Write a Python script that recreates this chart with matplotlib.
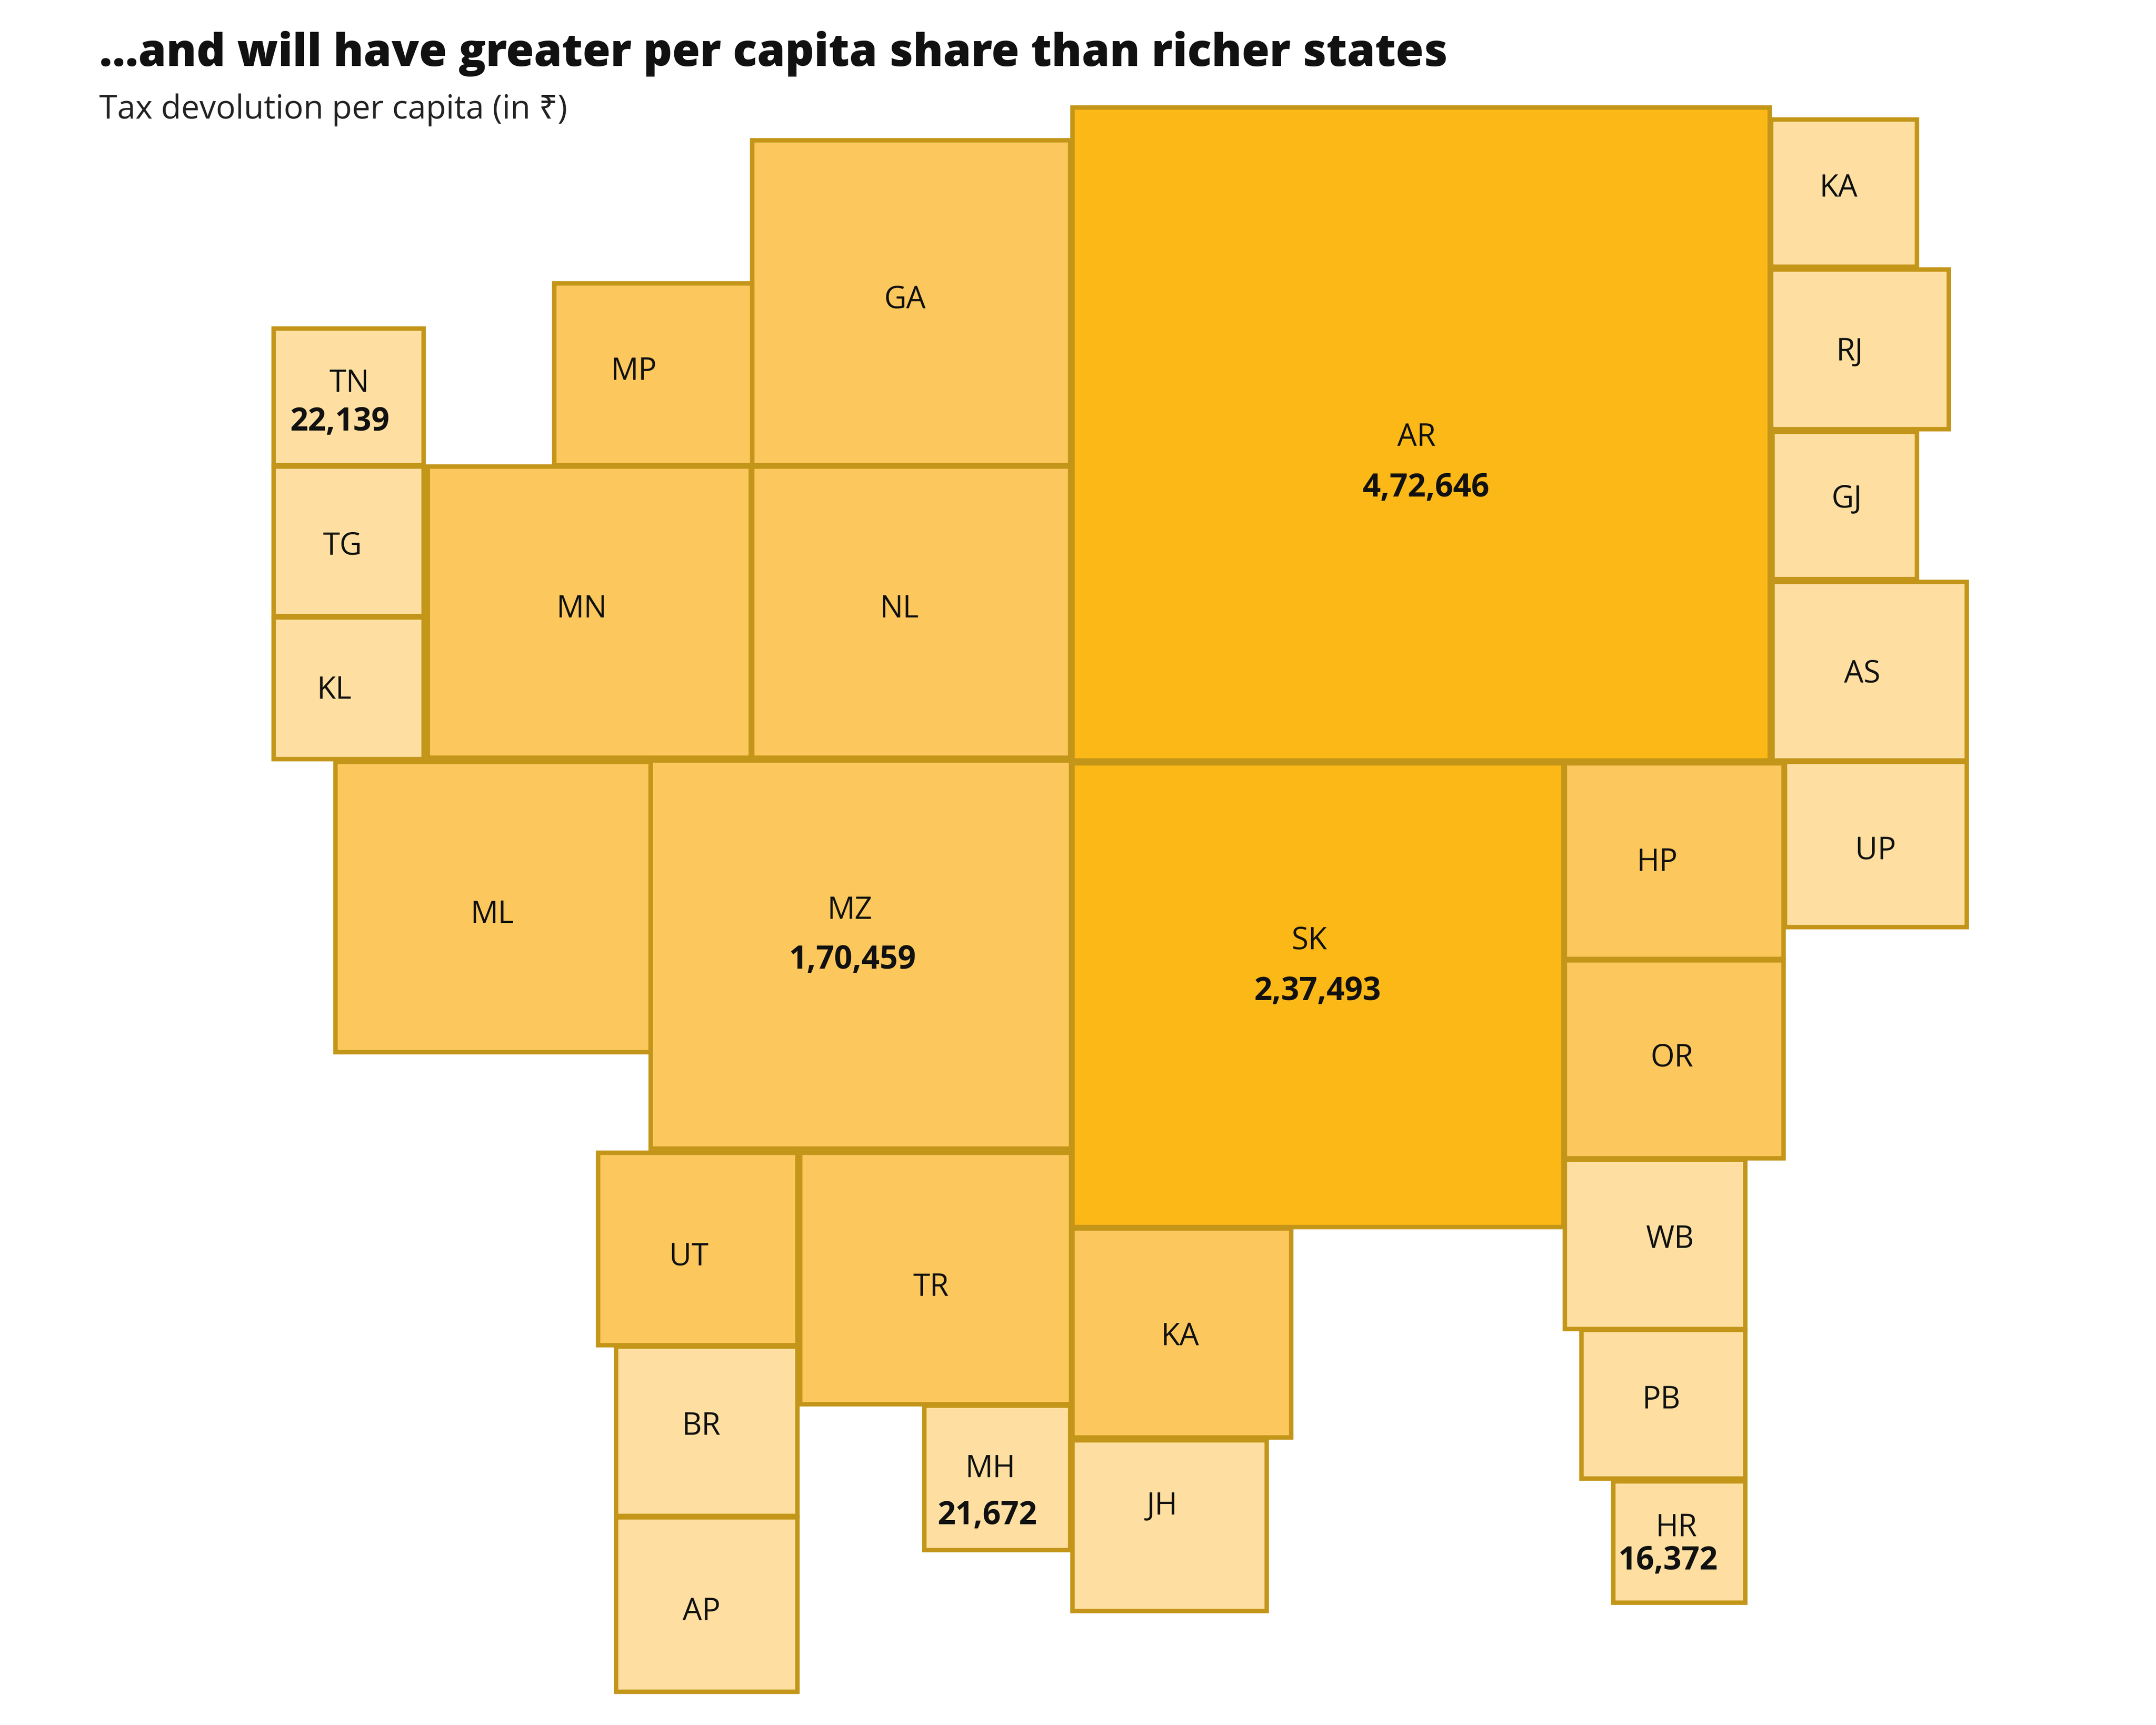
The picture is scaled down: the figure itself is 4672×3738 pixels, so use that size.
import matplotlib.pyplot as plt
from matplotlib.patches import Rectangle

# state codes, colour tier (0 = highest per capita share) and the values printed on the chart
states = ["AR", "SK", "GA", "NL", "MP", "MN", "TN", "TG", "KL", "ML", "MZ", "UT", "TR", "BR",
          "AP", "MH", "KA", "JH", "KA", "RJ", "GJ", "AS", "UP", "HP", "OR", "WB", "PB", "HR"]
tiers = [0, 0, 1, 1, 1, 1, 2, 2, 2, 1, 1, 1, 1, 2,
         2, 2, 1, 2, 2, 2, 2, 2, 2, 1, 1, 2, 2, 2]
per_capita = [472646, 237493, None, None, None, None, 22139, None, None, None, 170459, None, None, None,
              None, 21672, None, None, None, None, None, None, None, None, None, None, None, 16372]

# cartogram layout (pixel grid of the original graphic, y down)
box_x0 = [780, 780, 547, 547, 403, 311, 199, 199, 199, 244, 473, 435, 582, 448,
          448, 672, 780, 780, 1288, 1288, 1289, 1289, 1298, 1138, 1138, 1138, 1150, 1173]
box_y0 = [78, 555, 102, 339, 206, 339, 239, 339, 449, 554, 553, 838, 838, 979,
          1103, 1022, 893, 1047, 87, 196, 314, 423, 554, 555, 698, 843, 967, 1077]
box_x1 = [1287, 1137, 778, 778, 547, 546, 308, 308, 308, 473, 779, 580, 779, 580,
          580, 778, 939, 921, 1394, 1417, 1394, 1430, 1430, 1297, 1297, 1269, 1269, 1269]
box_y1 = [553, 892, 338, 551, 338, 551, 338, 448, 552, 765, 835, 978, 1021, 1102,
          1230, 1127, 1045, 1171, 194, 312, 421, 553, 674, 697, 842, 966, 1075, 1165]
label_x = [1030, 952, 658, 654, 461, 423, 254, 249, 243, 358, 618, 501, 677, 510,
           510, 720, 858, 845, 1337, 1345, 1343, 1354, 1364, 1205, 1216, 1214, 1208, 1219]
label_y = [318, 684, 218, 443, 270, 443, 279, 397, 502, 665, 662, 914, 936, 1037,
           1172, 1068, 972, 1095, 137, 256, 363, 490, 619, 627, 769, 901, 1018, 1111]
value_x = [1037, 958, None, None, None, None, 247, None, None, None, 620, None, None, None,
           None, 718, None, None, None, None, None, None, None, None, None, None, None, 1213]
value_y = [355, 721, None, None, None, None, 307, None, None, None, 698, None, None, None,
           None, 1102, None, None, None, None, None, None, None, None, None, None, None, 1135]

tier_colors = ["#FBB817", "#FCC75C", "#FEDFA1"]
edge_color = "#C39518"


def indian_format(n):
    s = str(n)
    last3, rest = s[-3:], s[:-3]
    groups = []
    while len(rest) > 2:
        groups.insert(0, rest[-2:])
        rest = rest[:-2]
    if rest:
        groups.insert(0, rest)
    return ",".join(groups + [last3])


plt.rcParams["font.family"] = ["Open Sans", "Noto Sans", "DejaVu Sans"]

fig = plt.figure(figsize=(15.576, 12.46), dpi=300)
ax = fig.add_axes([0, 0, 1, 1])
ax.set_xlim(0, 1568)
ax.set_ylim(1254, 0)
ax.axis("off")

for i, code in enumerate(states):
    ax.add_patch(Rectangle((box_x0[i], box_y0[i]), box_x1[i] - box_x0[i], box_y1[i] - box_y0[i],
                           facecolor=tier_colors[tiers[i]], edgecolor=edge_color, linewidth=2.3))
    ax.text(label_x[i], label_y[i], code, ha="center", va="center", fontsize=16, color="#111111")
    if per_capita[i] is not None:
        ax.text(value_x[i], value_y[i], indian_format(per_capita[i]), ha="center", va="center",
                fontsize=16.5, fontweight="bold", color="#111111")

ax.text(72, 39, "...and will have greater per capita share than richer states", ha="left", va="center",
        fontsize=23.4, fontweight="heavy", color="#111111")
ax.text(72, 80, "Tax devolution per capita (in ₹)", ha="left", va="center", fontsize=17,
        color="#222222")

fig.savefig("out.png", dpi=300, facecolor="white")
